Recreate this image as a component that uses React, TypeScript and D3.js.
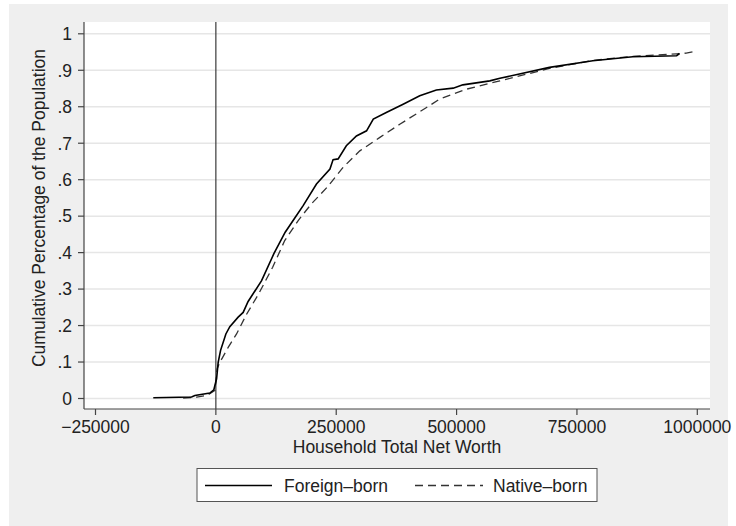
import React from 'react';
import * as d3 from 'd3';

// Cumulative distribution of household net worth
const foreignX = [-130000, -50500, -43600, -12500, -4200, 1500, 4800, 9800, 20800, 29000, 46300, 56700, 67000, 95000, 120500, 144000, 165000, 181300, 209000, 237000, 243500, 254000, 271000, 292000, 313000, 327000, 354000, 389000, 423500, 458000, 493000, 513000, 569000, 590000, 693000, 783000, 866000, 957000, 963000];
const foreignY = [0.002, 0.004, 0.008, 0.015, 0.024, 0.054, 0.099, 0.132, 0.177, 0.197, 0.223, 0.236, 0.266, 0.323, 0.397, 0.456, 0.497, 0.529, 0.588, 0.629, 0.655, 0.657, 0.693, 0.72, 0.734, 0.766, 0.784, 0.807, 0.83, 0.846, 0.851, 0.86, 0.871, 0.878, 0.908, 0.926, 0.937, 0.94, 0.946];

const nativeX = [-68000, -40000, -19000, -2000, 2800, 8300, 25600, 43000, 63800, 88900, 118000, 143000, 171000, 198000, 231000, 264500, 299000, 340700, 382000, 437600, 465000, 520000, 590000, 693000, 783000, 866000, 957000, 977000, 992000];
const nativeY = [0.001, 0.004, 0.008, 0.022, 0.082, 0.099, 0.14, 0.177, 0.231, 0.287, 0.36, 0.433, 0.488, 0.533, 0.579, 0.634, 0.679, 0.716, 0.752, 0.798, 0.821, 0.848, 0.871, 0.905, 0.927, 0.938, 0.945, 0.947, 0.951];

const xTicks = [-250000, 0, 250000, 500000, 750000, 1000000];
const yTicks = [0, 0.1, 0.2, 0.3, 0.4, 0.5, 0.6, 0.7, 0.8, 0.9, 1];

const seriesNames = ['Foreign–born', 'Native–born'];

const FONT = '"Liberation Sans", Arial, Helvetica, sans-serif';
const FS = 17.5;
const DASH = '8,5';

const fmtY = (v: number) => (v === 0 ? '0' : v === 1 ? '1' : d3.format('.1f')(v).replace(/^0/, ''));
const fmtX = (v: number) => (v < 0 ? '−' + Math.abs(v) : String(v));

const App = () => {
  const width = 736;
  const height = 526;
  const plot = { left: 84, right: 710, top: 22, bottom: 409 };

  const x = d3.scaleLinear().domain([-250000, 1000000]).range([95.5, 697.3]);
  const y = d3.scaleLinear().domain([0, 1]).range([398.5, 33.8]);

  const line = d3.line<[number, number]>()
    .x(d => x(d[0]))
    .y(d => y(d[1]));

  const foreign = foreignX.map((v, i) => [v, foreignY[i]] as [number, number]);
  const native = nativeX.map((v, i) => [v, nativeY[i]] as [number, number]);

  const cx = (plot.left + plot.right) / 2;

  return (
    <svg width={width} height={height} style={{ position: 'absolute', left: 0, top: 0 }}
      fontFamily={FONT}>
      <rect x={0} y={0} width={width} height={height} fill="#fff" />
      <rect x={9} y={4} width={719} height={height - 4} fill="#efefef" />
      <rect x={plot.left} y={plot.top} width={plot.right - plot.left} height={plot.bottom - plot.top} fill="#fff" />

      {/* gridlines */}
      {yTicks.map(t => (
        <line key={'g' + t} x1={plot.left} x2={plot.right} y1={y(t)} y2={y(t)}
          stroke="#e6e6e6" strokeWidth={1.5} />
      ))}

      {/* reference line at zero */}
      <line x1={x(0)} x2={x(0)} y1={plot.top} y2={plot.bottom} stroke="#3a3a3a" strokeWidth={1.2} />

      {/* curves */}
      <path d={line(native) || ''} fill="none" stroke="#333" strokeWidth={1.3} strokeDasharray={DASH} />
      <path d={line(foreign) || ''} fill="none" stroke="#000" strokeWidth={1.6} />

      {/* axes */}
      <line x1={plot.left} x2={plot.left} y1={plot.top} y2={plot.bottom} stroke="#444" strokeWidth={1.2} />
      <line x1={plot.left} x2={plot.right} y1={plot.bottom} y2={plot.bottom} stroke="#444" strokeWidth={1.2} />

      {yTicks.map(t => (
        <g key={'y' + t}>
          <line x1={plot.left - 6} x2={plot.left} y1={y(t)} y2={y(t)} stroke="#444" strokeWidth={1.2} />
          <text x={72} y={y(t)} dy="0.36em" textAnchor="end" fontSize={FS} fill="#222">{fmtY(t)}</text>
        </g>
      ))}
      {xTicks.map(t => (
        <g key={'x' + t}>
          <line x1={x(t)} x2={x(t)} y1={plot.bottom} y2={plot.bottom + 6} stroke="#444" strokeWidth={1.2} />
          <text x={x(t)} y={433} textAnchor="middle" fontSize={FS} fill="#222">{fmtX(t)}</text>
        </g>
      ))}

      <text x={cx} y={453} textAnchor="middle" fontSize={FS} fill="#222">Household Total Net Worth</text>
      <text transform={`translate(45, 208) rotate(-90)`} textAnchor="middle"
        fontSize={FS} fill="#222">Cumulative Percentage of the Population</text>

      {/* legend */}
      <rect x={197} y={468.5} width={400} height={33} fill="#fff" stroke="#555" strokeWidth={1} />
      <line x1={205} x2={272} y1={485.5} y2={485.5} stroke="#000" strokeWidth={1.6} />
      <text x={284} y={492} fontSize={FS} fill="#222">{seriesNames[0]}</text>
      <line x1={415} x2={483} y1={485.5} y2={485.5} stroke="#333" strokeWidth={1.3} strokeDasharray={DASH} />
      <text x={493} y={492} fontSize={FS} fill="#222">{seriesNames[1]}</text>
    </svg>
  );
};

export default App;
